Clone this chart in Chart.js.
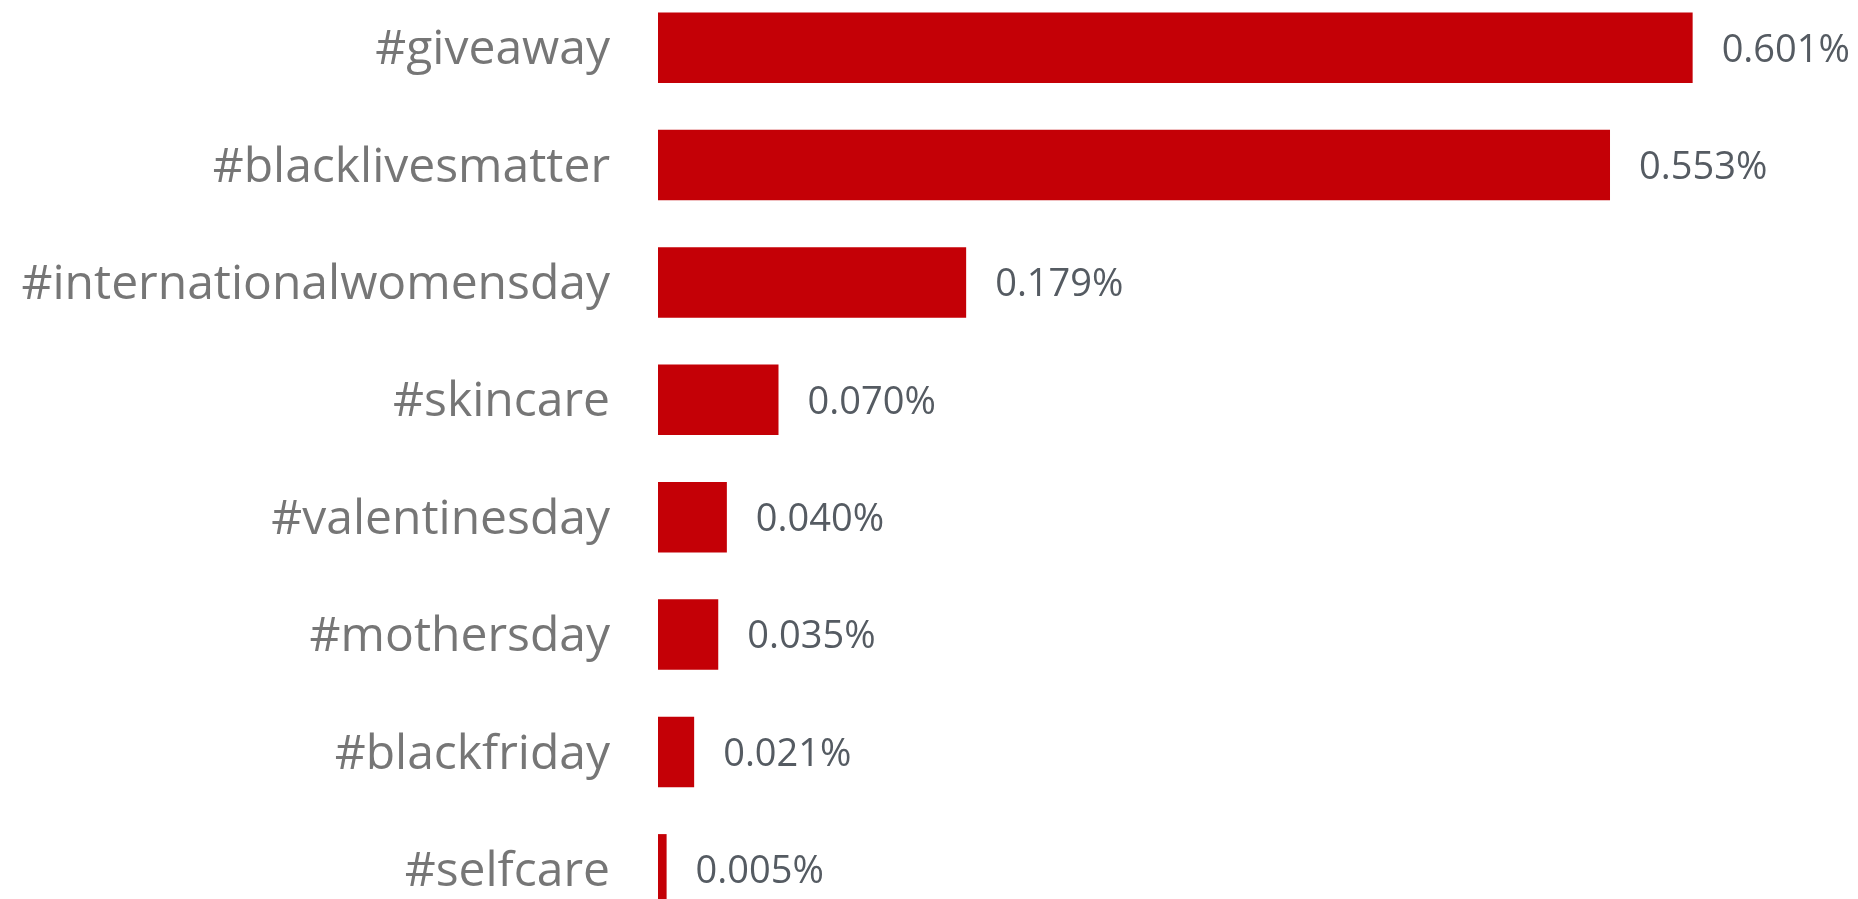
<!DOCTYPE html>
<html>
<head>
<meta charset="utf-8">
<title>Hashtags</title>
<script src="https://cdn.jsdelivr.net/npm/chart.js@4/dist/chart.umd.min.js"></script>
<style>
    html, body { margin: 0; padding: 0; background: #fff; overflow: hidden; }
    #wrap { position: absolute; left: 0; top: -11px; width: 1858px; height: 939px; }
</style>
</head>
<body>
<div id="wrap"><canvas id="hashtag-chart"></canvas></div>
<script>
const hashtags = ['#giveaway', '#blacklivesmatter', '#internationalwomensday', '#skincare',
    '#valentinesday', '#mothersday', '#blackfriday', '#selfcare'];
const shares = [0.601, 0.553, 0.179, 0.070, 0.040, 0.035, 0.021, 0.005];

// Percentage labels to the right of each bar
const valueLabels = {
    id: 'valueLabels',
    afterDatasetsDraw(chart) {
        const ctx = chart.ctx;
        const meta = chart.getDatasetMeta(0);
        ctx.save();
        ctx.font = '38px "Open Sans"';
        ctx.fillStyle = '#555b62';
        ctx.textAlign = 'left';
        ctx.textBaseline = 'middle';
        meta.data.forEach((bar, i) => {
            ctx.fillText(shares[i].toFixed(3) + '%', bar.x + 29, bar.y + 3);
        });
        ctx.restore();
    }
};

new Chart(document.getElementById('hashtag-chart'), {
    type: 'bar',
    data: {
        labels: hashtags,
        datasets: [{
            data: shares,
            backgroundColor: '#c40006',
            borderWidth: 0,
            categoryPercentage: 1,
            barPercentage: 0.6
        }]
    },
    options: {
        indexAxis: 'y',
        responsive: true,
        maintainAspectRatio: false,
        animation: false,
        layout: { padding: { left: 0, right: 81, top: 0, bottom: 0 } },
        plugins: { legend: { display: false }, tooltip: { enabled: false } },
        scales: {
            x: { display: false, min: 0, max: 0.65 },
            y: {
                grid: { display: false, drawTicks: false },
                border: { display: false },
                ticks: { color: '#767676', padding: 48, labelOffset: 3, font: { family: '"Open Sans"', size: 48 } },
                afterFit: s => {
                    // fixed label column; no extra top/bottom room for the tick labels
                    s.width = 658;
                    s.paddingTop = 0;
                    s.paddingBottom = 0;
                }
            }
        }
    },
    plugins: [valueLabels]
});
</script>
</body>
</html>
